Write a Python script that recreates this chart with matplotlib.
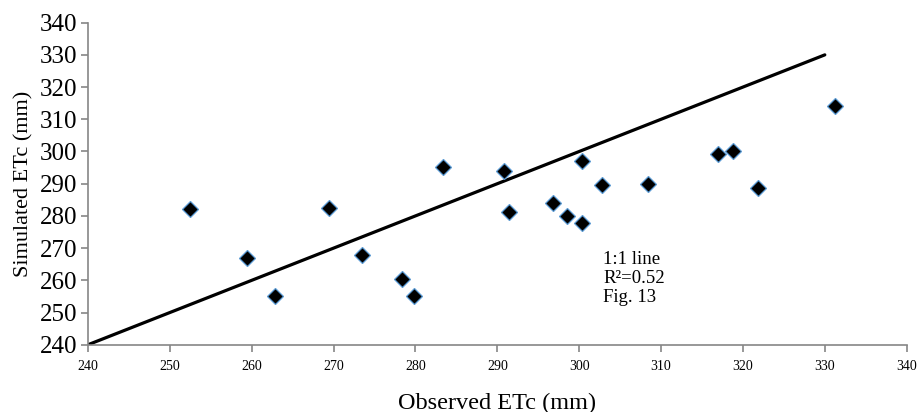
import matplotlib.pyplot as plt
import numpy as np

plt.rcParams['font.family'] = ['Liberation Serif', 'DejaVu Serif']

# observed vs simulated crop evapotranspiration (mm)
observed = [252.4, 259.4, 262.8, 269.4, 273.5, 278.3, 279.8, 283.4, 290.8, 291.4,
            296.8, 298.5, 300.3, 300.4, 302.8, 308.4, 317.0, 318.8, 321.9, 331.2]
simulated = [282.1, 266.8, 255.1, 282.4, 268.0, 260.3, 255.1, 295.1, 294.0, 281.1,
             284.1, 280.1, 277.7, 297.1, 289.5, 289.8, 299.2, 300.2, 288.8, 314.2]
line_x = [240, 330]
line_y = [240, 330]
x_ticks = np.arange(240, 341, 10)
y_ticks = np.arange(240, 341, 10)

fig = plt.figure(figsize=(9.2, 4.12), dpi=100)
ax = fig.add_axes([0.0957, 0.1633, 0.8898, 0.7817])

ax.plot(line_x, line_y, color='black', linewidth=2.3, solid_capstyle='round', zorder=2)
ax.plot(observed, simulated, linestyle='none', marker='D', markersize=8,
        markerfacecolor='black', markeredgecolor='#5B9BD5', markeredgewidth=0.9, zorder=3)

ax.set_xlim(240, 340)
ax.set_ylim(240, 340)
ax.set_xticks(x_ticks)
ax.set_yticks(y_ticks)

for side in ['top', 'right']:
    ax.spines[side].set_visible(False)
for side in ['left', 'bottom']:
    ax.spines[side].set_color('#868686')
    ax.spines[side].set_linewidth(1.2)

ax.tick_params(axis='x', colors='#868686', labelcolor='black', labelsize=10,
               length=5, width=1.2, pad=6)
ax.tick_params(axis='y', colors='#868686', labelcolor='black', labelsize=18,
               length=5, width=1.2, pad=3)

ax.set_xlabel("Observed ETc (mm)", fontsize=17.5, labelpad=14)
ax.set_ylabel("Simulated ETc (mm)", fontsize=16, labelpad=4)

ax.text(302.9, 269.2, "1:1 line\nR²=0.52\nFig. 13", fontsize=13.5,
        va='top', ha='left', linespacing=1.15)

fig.savefig("out.png", dpi=100)
